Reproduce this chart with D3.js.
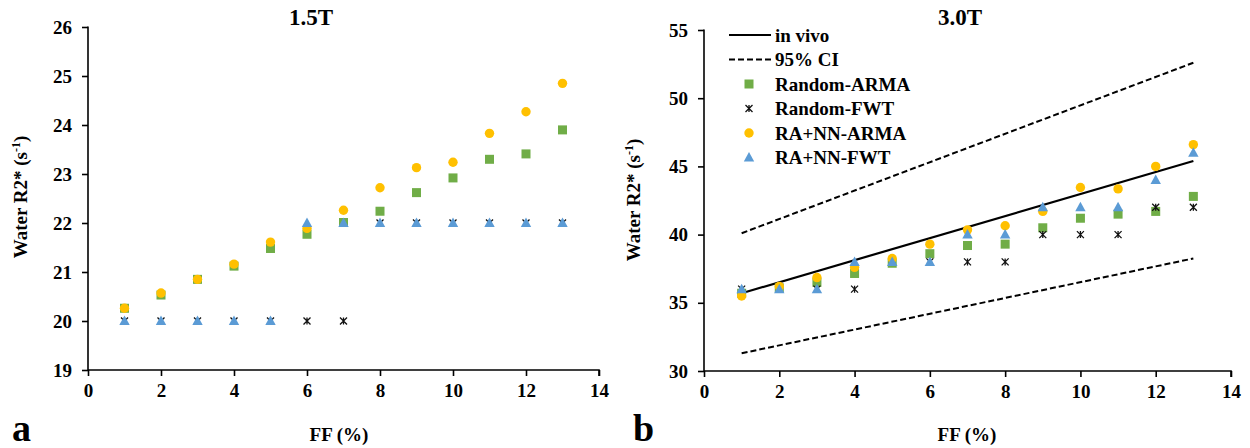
<!DOCTYPE html>
<html><head><meta charset="utf-8">
<script src="https://cdn.jsdelivr.net/npm/d3@7"></script>
<style>
html,body{margin:0;padding:0;background:#fff;}
svg{display:block;}
svg text{font-family:"Liberation Serif","Tinos","Times New Roman","DejaVu Serif",serif !important;font-weight:bold;}
</style></head>
<body><svg id="c" width="1250" height="448"></svg>
<script>
// ---- data ----
const ff = [1,2,3,4,5,6,7,8,9,10,11,12,13];
const xTicks = [0,2,4,6,8,10,12,14];
// 1.5T panel
const yTicks15 = [19,20,21,22,23,24,25,26];
const randomARMA15 = [20.26,20.53,20.85,21.12,21.48,21.77,22.01,22.24,22.62,22.92,23.30,23.41,23.90];
const randomFWT15  = [20,20,20,20,20,20,20,22,22,22,22,22,22];
const raNnARMA15   = [20.26,20.57,20.85,21.16,21.61,21.89,22.26,22.72,23.13,23.24,23.83,24.27,24.85];
const raNnFWT15    = [20,20,20,20,20,22,22,22,22,22,22,22,22];
// 3.0T panel
const yTicks30 = [30,35,40,45,50,55];
const randomARMA30 = [35.7,36.1,36.5,37.15,37.9,38.6,39.2,39.3,40.5,41.2,41.5,41.7,42.8];
const randomFWT30  = [36,36,36,36,38,38,38,38,40,40,40,42,42];
const raNnARMA30   = [35.5,36.2,36.85,37.6,38.25,39.3,40.35,40.65,41.7,43.45,43.35,45.0,46.6];
const raNnFWT30    = [36,36,36,38,38,38,40,40,42,42,42,44,46];
const lineX   = [1,13];
const inVivo  = [35.7,45.4];
const ciUpper = [40.1,52.6];
const ciLower = [31.3,38.25];
const legendLabels = ["in vivo","95% CI","Random-ARMA","Random-FWT","RA+NN-ARMA","RA+NN-FWT"];

const GREEN="#70AD47", ORANGE="#FFC000", BLUE="#5B9BD5";
const svg = d3.select("#c");

function marker(g, type, x, y){
  if(type==="square"){
    g.append("rect").attr("x",x-4.5).attr("y",y-4.5).attr("width",9).attr("height",9).attr("fill",GREEN);
  } else if(type==="circle"){
    g.append("circle").attr("cx",x).attr("cy",y).attr("r",4.7).attr("fill",ORANGE);
  } else if(type==="triangle"){
    g.append("path").attr("d",`M${x},${y-5.5}L${x+5.2},${y+4}L${x-5.2},${y+4}Z`).attr("fill",BLUE);
  } else if(type==="star"){
    const s=3.5;
    g.append("path").attr("d",`M${x-s},${y-s}L${x+s},${y+s}M${x+s},${y-s}L${x-s},${y+s}M${x},${y-s}L${x},${y+s}`)
      .attr("stroke","#111").attr("stroke-width",1.3).attr("fill","none");
  }
}

function panel(o){
  const x = d3.scaleLinear().domain([0,14]).range([o.x0,o.x1]);
  const y = d3.scaleLinear().domain(o.ydom).range([o.y1,o.y0]);
  const g = svg.append("g");
  const ax = g.append("g").attr("transform",`translate(0,${o.y1})`)
    .call(d3.axisBottom(x).tickValues(xTicks).tickSize(6).tickPadding(8).tickFormat(d3.format("d")));
  const ay = g.append("g").attr("transform",`translate(${o.x0},0)`)
    .call(d3.axisLeft(y).tickValues(o.yticks).tickSize(6).tickPadding(10).tickFormat(d3.format("d")));
  [ax,ay].forEach(a=>{
    a.attr("font-family",null).attr("font-size",null);
    a.selectAll("path,line").attr("stroke","#000").attr("stroke-width",1.6);
    a.selectAll("text").attr("font-size",19).attr("fill","#000");
  });
  ay.select(".domain").attr("d",`M0,${o.y0-0.5}V${o.y1}`);
  ax.select(".domain").attr("d",`M${o.x0},0H${o.x1}V6`);
  // title
  g.append("text").attr("x",o.tx).attr("y",25).attr("text-anchor","middle").attr("font-size",23).text(o.title);
  // axis labels
  g.append("text").attr("x",(o.xlx)).attr("y",441).attr("text-anchor","middle").attr("font-size",19).text("FF (%)");
  const yl = g.append("text").attr("transform",`translate(${o.ylx},${o.yly}) rotate(-90)`).attr("text-anchor","middle").attr("font-size",19);
  yl.append("tspan").text("Water R2* (s");
  yl.append("tspan").attr("font-size",12).attr("dy",-7).text("-1");
  yl.append("tspan").attr("dy",7).text(")");
  g.append("text").attr("x",o.lx).attr("y",441).attr("font-size",38).text(o.letter);
  return {g,x,y};
}

function drawSeries(p, arr, type){
  const gg = p.g.append("g");
  arr.forEach((v,i)=>marker(gg,type,p.x(ff[i]),p.y(v)));
}

// panel a
const pa = panel({x0:88,x1:599,y0:27,y1:370,ydom:[19,26],yticks:yTicks15,title:"1.5T",tx:311,xlx:339,ylx:27,yly:197,lx:12,letter:"a"});
drawSeries(pa, randomARMA15,"square");
drawSeries(pa, randomFWT15,"star");
drawSeries(pa, raNnARMA15,"circle");
drawSeries(pa, raNnFWT15,"triangle");

// panel b
const pb = panel({x0:704,x1:1231,y0:30,y1:371,ydom:[30,55],yticks:yTicks30,title:"3.0T",tx:960,xlx:967,ylx:640,yly:200,lx:633,letter:"b"});
const line = d3.line().x((d,i)=>pb.x(lineX[i])).y(d=>pb.y(d));
pb.g.append("path").attr("d",line(ciUpper)).attr("fill","none").attr("stroke","#000").attr("stroke-width",2).attr("stroke-dasharray","6,3");
pb.g.append("path").attr("d",line(ciLower)).attr("fill","none").attr("stroke","#000").attr("stroke-width",2).attr("stroke-dasharray","6,3");
pb.g.append("path").attr("d",line(inVivo)).attr("fill","none").attr("stroke","#000").attr("stroke-width",2.2);
drawSeries(pb, randomARMA30,"square");
drawSeries(pb, randomFWT30,"star");
drawSeries(pb, raNnARMA30,"circle");
drawSeries(pb, raNnFWT30,"triangle");

// legend
const lg = svg.append("g");
const legTypes = ["solid","dash","square","star","circle","triangle"];
legTypes.forEach((t,i)=>{
  const yy = 35 + i*24.5;
  if(t==="solid") lg.append("line").attr("x1",729).attr("x2",771).attr("y1",yy).attr("y2",yy).attr("stroke","#000").attr("stroke-width",2.2);
  else if(t==="dash") lg.append("line").attr("x1",729).attr("x2",771).attr("y1",yy).attr("y2",yy).attr("stroke","#000").attr("stroke-width",2).attr("stroke-dasharray","6,3");
  else marker(lg,t,749,yy);
  lg.append("text").attr("x",775).attr("y",yy+6.5).attr("font-size",19).text(legendLabels[i]);
});
</script></body></html>
